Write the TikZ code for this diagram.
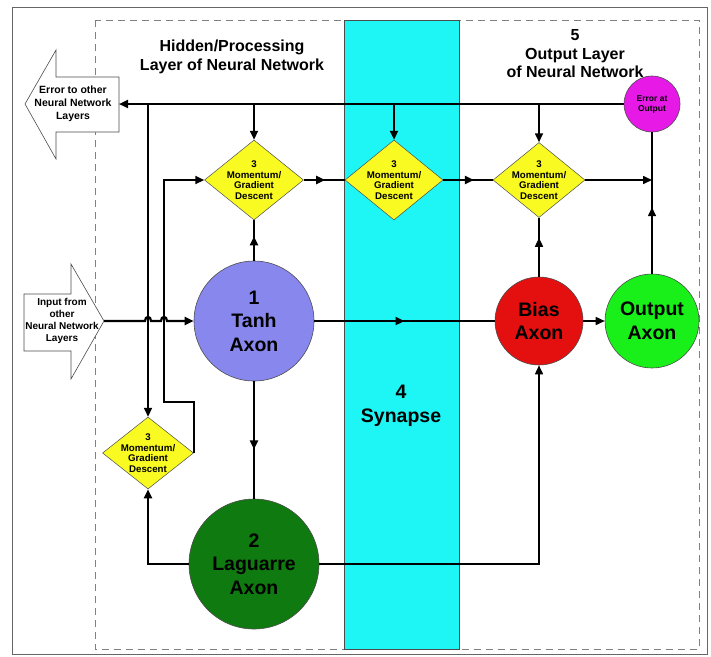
\documentclass[tikz,border=0pt]{standalone}
\usepackage{fontspec}
\setmainfont{Liberation Sans}
\usetikzlibrary{shapes.geometric,arrows.meta,decorations.markings}
\definecolor{dyellow}{RGB}{250,250,35}
\definecolor{dcyan}{RGB}{30,245,245}
\definecolor{dtanh}{RGB}{135,135,238}
\definecolor{dbias}{RGB}{228,15,15}
\definecolor{dout}{RGB}{25,240,25}
\definecolor{dlag}{RGB}{15,122,15}
\definecolor{dmag}{RGB}{230,25,230}
\tikzset{
  ln/.style={line width=2.2pt, draw=black},
  lnt/.style={line width=1.6pt, draw=black},
  tip/.style={-{Triangle[length=9pt,width=8pt]}},
  midarrow/.style={postaction={decorate}, decoration={markings, mark=at position #1 with {\arrow{Triangle[length=9pt,width=8pt]}}}},
  dia/.style={diamond, draw=black!70, line width=0.5pt, fill=dyellow, inner sep=0pt},
  dtext/.style={font=\fontsize{9.7}{10.5}\selectfont\bfseries, align=center, inner sep=0pt},
  circ/.style={circle, draw=black!70, line width=0.6pt, inner sep=0pt},
  big/.style={font=\fontsize{19.5}{23.5}\selectfont\bfseries, align=center, inner sep=0pt},
  ttl/.style={font=\fontsize{16}{18.5}\selectfont\bfseries, align=center, inner sep=0pt},
  blk/.style={draw=black!70, line width=0.6pt, fill=white},
  btext/.style={font=\fontsize{10.5}{13}\selectfont\bfseries, align=center, inner sep=0pt}
}
\begin{document}
\begin{tikzpicture}[x=1pt,y=-1pt]
\useasboundingbox (0,0) rectangle (711,656);
% frames
\draw[black!60, line width=1pt] (12,7) rectangle (707,654);
\draw[black!50, line width=1pt, dash pattern=on 7pt off 5pt] (95,20) rectangle (699,649);
\draw[black!70, line width=0.6pt, fill=dcyan] (344,20) rectangle (459,649);
% titles
\node[ttl] (t1) at (232,57) {Hidden/Processing\\Layer of Neural Network};
\node[ttl] (t2) at (575,54) {5\\Output Layer\\of Neural Network};
\node[big] (syn) at (401,406) {4\\Synapse};
% block arrows
\draw[blk] (25,104) -- (56,50) -- (56,77) -- (119,77) -- (119,132) -- (56,132) -- (56,159) -- cycle;
\node[btext] (errtxt) at (73,104) {Error to other\\Neural Network\\Layers};
\coordinate (errtip) at (119,104);
\draw[blk] (24,294) -- (71,294) -- (71,264) -- (104,321) -- (71,379) -- (71,351) -- (24,351) -- cycle;
\node[btext, font=\fontsize{10}{12}\selectfont\bfseries] (intxt) at (62,321) {Input from\\other\\Neural Network\\Layers};
\coordinate (intip) at (104,321);
% diamonds
\node[dia, minimum width=99pt, minimum height=80pt] (D1) at (254,180) {};
\node[dtext] at (D1) {3\\Momentum/\\Gradient\\Descent};
\node[dia, minimum width=98pt, minimum height=80pt] (D2) at (394,180) {};
\node[dtext] at (D2) {3\\Momentum/\\Gradient\\Descent};
\node[dia, minimum width=92pt, minimum height=75pt] (D3) at (539,180) {};
\node[dtext] at (D3) {3\\Momentum/\\Gradient\\Descent};
\node[dia, minimum width=91pt, minimum height=72pt] (D4) at (148,453) {};
\node[dtext] at (D4) {3\\Momentum/\\Gradient\\Descent};
% circles
\node[circ, fill=dtanh, minimum size=120pt] (Tanh) at (254,321) {};
\node[big] at (Tanh) {1\\Tanh\\Axon};
\node[circ, fill=dlag, minimum size=130pt] (Lag) at (254,564) {};
\node[big] at (Lag) {2\\Laguarre\\Axon};
\node[circ, fill=dbias, minimum size=88pt] (Bias) at (539,321) {};
\node[big] at (Bias) {Bias\\Axon};
\node[circ, fill=dout, minimum size=94pt] (Out) at (652,321) {};
\node[big] at (Out) {Output\\Axon};
\node[circ, fill=dmag, minimum size=56pt] (ErrOut) at (652,104) {};
\node[font=\fontsize{8.5}{10}\selectfont\bfseries, align=center, inner sep=0pt] at (ErrOut) {Error at\\Output};
% junction coordinates
\coordinate (j0) at (148,104);
\coordinate (j1) at (254,104);
\coordinate (j2) at (394,104);
\coordinate (j3) at (539,104);
\coordinate (jr) at (652,180);
% connectors
\draw[ln, tip] (ErrOut.west) -- (errtip);
\draw[ln, tip] (j1) -- (D1.north);
\draw[ln, tip] (j2) -- (D2.north);
\draw[lnt, tip] (j3) -- (D3.north);
\draw[ln, tip] (j0) -- (D4.north);
\draw[ln, midarrow=0.52] (D1.east) -- (D2.west);
\draw[ln, midarrow=0.62] (D2.east) -- (D3.west);
\draw[lnt, tip] (D3.east) -- (jr);
\draw[lnt, midarrow=0.47] (Out.north) -- (ErrOut.south);
\draw[ln, midarrow=0.6] (Tanh.north) -- (D1.south);
\draw[lnt, midarrow=0.66] (Bias.north) -- (D3.south);
\draw[ln, tip] (intip) -- (145,321) .. controls (145,315.5) and (151,315.5) .. (151,321) -- (161,321) .. controls (161,315.5) and (167,315.5) .. (167,321) -- (Tanh.west);
\draw[ln, midarrow=0.5] (Tanh.east) -- (Bias.west);
\draw[lnt, tip] (Bias.east) -- (Out.west);
\draw[ln, midarrow=0.58] (Tanh.south) -- (Lag.north);
\draw[lnt, tip] (Lag.east) -| (Bias.south);
\draw[ln, tip] (Lag.west) -| (D4.south);
\draw[ln, tip] (D4.east) |- (164,402) |- (D1.west);
\end{tikzpicture}
\end{document}
